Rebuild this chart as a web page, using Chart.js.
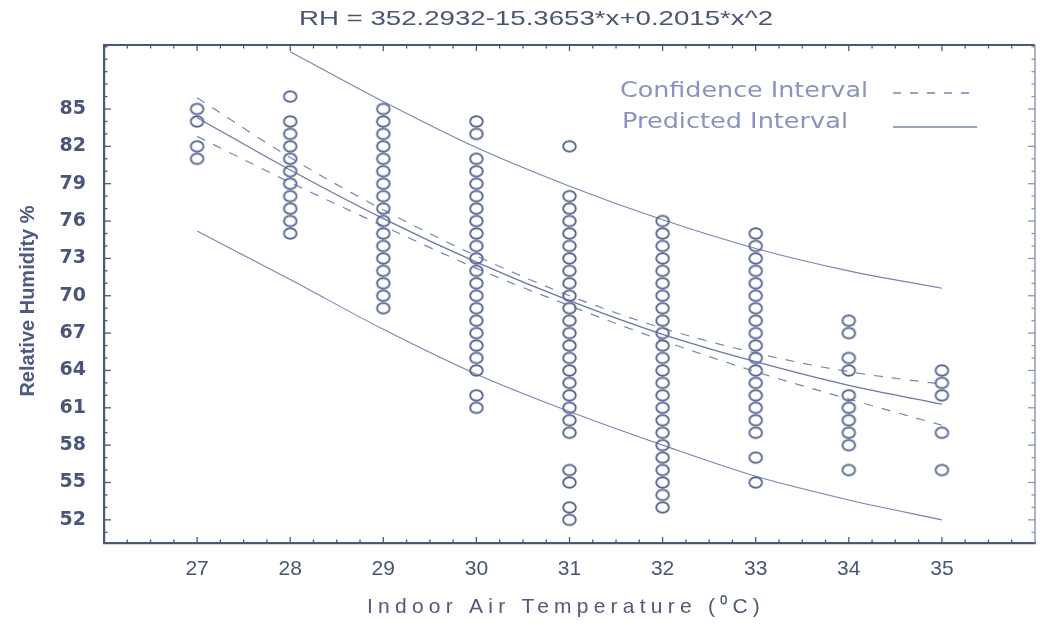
<!DOCTYPE html>
<html><head><meta charset="utf-8">
<script src="https://cdn.jsdelivr.net/npm/chart.js@4.4.1/dist/chart.umd.min.js"></script>
<style>html,body{margin:0;padding:0;background:#fff;}#wrap{width:1042px;height:628px;}</style>
</head><body><div id="wrap"><canvas id="c" width="1042" height="628"></canvas></div>
<script>
// ---------- data ----------
const chartTitle = 'RH = 352.2932-15.3653*x+0.2015*x^2';
const xTitle = 'Indoor Air Temperature (\u2070C)';
const yTitle = 'Relative Humidity %';
const ciLabel = 'Confidence Interval';
const piLabel = 'Predicted Interval';

const temps = [27, 28, 29, 30, 31, 32, 33, 34, 35];
const xTickValues = [27, 28, 29, 30, 31, 32, 33, 34, 35];
const yTickValues = [52, 55, 58, 61, 64, 67, 70, 73, 76, 79, 82, 85];

// observed RH at each temperature
const rh27 = [85, 84, 82, 81];
const rh28 = [86, 84, 83, 82, 81, 80, 79, 78, 77, 76, 75];
const rh29 = [85, 84, 83, 82, 81, 80, 79, 78, 77, 76, 75, 74, 73, 72, 71, 70, 69];
const rh30 = [84, 83, 81, 80, 79, 78, 77, 76, 75, 74, 73, 72, 71, 70, 69, 68, 67, 66, 65, 64, 62, 61];
const rh31 = [82, 78, 77, 76, 75, 74, 73, 72, 71, 70, 69, 68, 67, 66, 65, 64, 63, 62, 61, 60, 59, 56, 55, 53, 52];
const rh32 = [76, 75, 74, 73, 72, 71, 70, 69, 68, 67, 66, 65, 64, 63, 62, 61, 60, 59, 58, 57, 56, 55, 54, 53];
const rh33 = [75, 74, 73, 72, 71, 70, 69, 68, 67, 66, 65, 64, 63, 62, 61, 60, 59, 57, 55];
const rh34 = [68, 67, 65, 64, 62, 61, 60, 59, 58, 56];
const rh35 = [64, 63, 62, 59, 56];

// curves read at each temperature
const fitRH   = [84.3, 80.1, 76.2, 72.7, 69.6, 66.9, 64.7, 62.8, 61.3];
const ciUpper = [85.9, 81.1, 76.9, 73.2, 70.0, 67.4, 65.4, 63.9, 62.9];
const ciLower = [82.8, 79.1, 75.6, 72.2, 69.2, 66.4, 63.9, 61.7, 59.6];
const piUpper = [null, 89.6, 85.6, 81.9, 78.8, 76.1, 73.8, 72.0, 70.6];
const piLower = [75.2, 71.3, 67.3, 63.7, 60.7, 58.0, 55.5, 53.6, 52.0];

// ---------- build ----------
const obsByTemp = [rh27, rh28, rh29, rh30, rh31, rh32, rh33, rh34, rh35];
const obsPoints = temps.flatMap((t, i) => obsByTemp[i].map(v => ({x: t, y: v})));
const toPts = arr => temps.map((t, i) => ({x: t, y: arr[i]}));

const INK = '#4b587b';
const LINE = '#7884b0';

// hollow, slightly wide circle marker
const marker = document.createElement('canvas');
marker.width = 17; marker.height = 15;
(() => {
  const m = marker.getContext('2d');
  m.strokeStyle = '#5a6892'; m.lineWidth = 1.9;
  m.beginPath(); m.ellipse(8.5, 7.5, 6.3, 5.3, 0, 0, Math.PI * 2); m.stroke();
})();

function lineDs(label, arr, color, width, dash) {
  return {type: 'line', label, data: toPts(arr), borderColor: color, borderWidth: width,
    borderDash: dash || [], pointRadius: 0, fill: false, showLine: true,
    cubicInterpolationMode: 'monotone', spanGaps: false, order: 2};
}

// letter-spaced text centred on cx
function drawSpaced(ctx, text, cx, cy, target) {
  ctx.letterSpacing = '0px';
  const w0 = ctx.measureText(text).width;
  const sp = Math.max(0, (target - w0) / text.length);
  ctx.letterSpacing = sp + 'px';
  ctx.textAlign = 'left';
  ctx.fillText(text, cx - target / 2, cy);
  ctx.letterSpacing = '0px';
}
// horizontally stretched text starting at x0
function drawStretched(ctx, text, x0, cy, target) {
  const w0 = ctx.measureText(text).width;
  ctx.save();
  ctx.translate(x0, cy);
  ctx.scale(target / w0, 1);
  ctx.textAlign = 'left';
  ctx.fillText(text, 0, 0);
  ctx.restore();
}

const decor = {
  id: 'decor',
  afterDraw(chart) {
    const {ctx, chartArea: a, scales: {x, y}} = chart;
    ctx.save();
    const seg = (x1, y1, x2, y2) => { ctx.beginPath(); ctx.moveTo(x1, y1); ctx.lineTo(x2, y2); ctx.stroke(); };
    // frame top and right
    ctx.strokeStyle = INK; ctx.lineWidth = 2.2;
    seg(a.left - 1, a.top, a.right, a.top);
    ctx.strokeStyle = '#8d98b8'; ctx.lineWidth = 1.5;
    seg(a.right, a.top, a.right, a.bottom);
    // inward ticks
    ctx.strokeStyle = INK; ctx.lineWidth = 1.3;
    for (let k = 1; k < 40; k++) {
      const v = x.min + k * 0.25;
      const px = x.getPixelForValue(v);
      const len = (k % 4 === 0) ? 6 : 3.5;
      seg(px, a.bottom, px, a.bottom - len);
      seg(px, a.top, px, a.top + len);
    }
    for (let v = Math.ceil(y.min); v <= y.max; v++) {
      const py = y.getPixelForValue(v);
      const len = yTickValues.includes(v) ? 7 : 3.5;
      seg(a.left, py, a.left + len, py);
      ctx.strokeStyle = '#8d98b8';
      seg(a.right, py, a.right - len, py);
      ctx.strokeStyle = INK;
    }
    // titles
    ctx.textBaseline = 'middle';
    ctx.fillStyle = '#4a5573';
    ctx.font = '21px "Liberation Sans", Arial, sans-serif';
    drawStretched(ctx, chartTitle, 299, 19, 474);
    ctx.fillStyle = '#4f5a78';
    ctx.font = '21px "Liberation Sans", Arial, sans-serif';
    drawSpaced(ctx, xTitle, 566, 607, 398);
    ctx.save();
    ctx.translate(28, 301); ctx.rotate(-Math.PI / 2);
    ctx.fillStyle = '#4d5b82';
    ctx.font = 'bold 20px "Liberation Sans", Arial, sans-serif';
    ctx.textAlign = 'center';
    ctx.fillText(yTitle, 0, 0);
    ctx.restore();
    // legend
    ctx.fillStyle = '#8a93bf';
    ctx.font = '21px "DejaVu Sans", sans-serif';
    drawStretched(ctx, ciLabel, 620, 92, 248);
    drawStretched(ctx, piLabel, 622, 123, 226);
    ctx.strokeStyle = LINE; ctx.lineWidth = 1.3;
    ctx.setLineDash([8, 9]);
    seg(893, 93, 977, 93);
    ctx.setLineDash([]);
    ctx.lineWidth = 1.4;
    seg(893, 127, 977, 127);
    ctx.restore();
  }
};

new Chart(document.getElementById('c'), {
  type: 'scatter',
  data: {
    datasets: [
      {type: 'scatter', label: 'Observed RH', data: obsPoints, pointStyle: marker,
        pointRadius: 6, pointHoverRadius: 6, order: 1},
      lineDs('Fitted', fitRH, '#6a78a6', 1.3),
      lineDs(ciLabel + ' (upper)', ciUpper, LINE, 1.2, [9, 9]),
      lineDs(ciLabel + ' (lower)', ciLower, LINE, 1.2, [9, 9]),
      lineDs(piLabel + ' (upper)', piUpper, LINE, 1.1),
      lineDs(piLabel + ' (lower)', piLower, LINE, 1.1)
    ]
  },
  options: {
    responsive: false, animation: false, devicePixelRatio: 1,
    layout: {padding: {top: 45, right: 4, left: 0, bottom: 0}},
    plugins: {legend: {display: false}, title: {display: false}, tooltip: {enabled: false}},
    scales: {
      x: {
        type: 'linear', min: 26, max: 36,
        afterBuildTicks: s => { s.ticks = xTickValues.map(v => ({value: v})); },
        afterFit: s => { s.height = 85; },
        grid: {display: false},
        border: {display: true, color: INK, width: 2.2},
        ticks: {color: '#4a5575', padding: 6, font: {family: '"Liberation Sans", Arial, sans-serif', size: 21}}
      },
      y: {
        type: 'linear', min: 50.14, max: 90.14,
        afterBuildTicks: s => { s.ticks = yTickValues.map(v => ({value: v})); },
        afterFit: s => { s.width = 104; },
        grid: {display: false},
        border: {display: true, color: INK, width: 2.2},
        ticks: {color: '#4a5678', padding: 10, font: {family: '"DejaVu Sans", sans-serif', size: 19, weight: 'bold'}}
      }
    }
  },
  plugins: [decor]
});
</script>
</body></html>
